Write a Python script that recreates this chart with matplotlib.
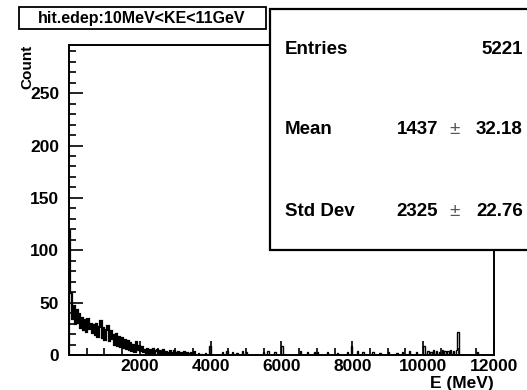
import numpy as np
import matplotlib.pyplot as plt
from matplotlib.patches import Rectangle
from matplotlib.ticker import MultipleLocator, FixedLocator

plt.rcParams["font.family"] = ["Liberation Sans", "DejaVu Sans"]
plt.rcParams["font.weight"] = "bold"

BIN_WIDTH = 40  # MeV
X_MAX = 12000
Y_MAX = 296
HEAD_BINS = 90

# counts of the first 90 bins (0 - 3600 MeV)
head_counts = [
    118, 59, 34, 47, 30, 43, 31, 39,
    26, 35, 24, 33, 22, 34, 25, 30, 21, 29,
    19, 30, 17, 27, 32, 16, 26, 14, 24, 28, 13, 23, 15,
    19, 10, 20, 9, 17, 8, 16, 7, 14, 6, 13, 5,
    11, 4, 10, 3, 12, 5, 9, 4, 8, 3,
    5, 1, 6, 1, 5, 2, 6, 1, 4, 5, 1, 4, 0, 5, 1,
    3, 0, 2, 4, 0, 2, 4, 0, 2, 3, 0, 2, 1, 3, 0, 2, 1, 0, 2, 1, 3, 0,
]

# sparse tail: energy (MeV) and count of the isolated spikes
tail_energy = [
    3650, 3750, 3850, 3980, 4320, 4460, 4630, 4750, 4880, 5020,
    5480, 5620, 5820, 6010, 6520, 6720, 6950, 7000, 7290, 7570,
    7850, 7990, 8130, 8300, 8560, 8780, 9010, 9260, 9430, 9630,
    9830, 10000, 10120, 10200, 10280, 10360, 10440, 10520, 10600, 10680,
    10760, 10840, 10920, 10960, 11520,
]
tail_counts = [
    2, 1, 2, 9, 3, 4, 3, 2, 4, 3,
    3, 4, 3, 9, 4, 3, 3, 3, 3, 2,
    3, 9, 4, 3, 3, 2, 3, 2, 3, 4,
    3, 9, 4, 3, 5, 4, 3, 5, 4, 4,
    5, 4, 5, 22, 3,
]

stats_labels = ["Entries", "Mean", "Std Dev"]
stats_values = ["5221", "1437", "2325"]
stats_errors = [None, "32.18", "22.76"]


def main() -> None:
    edges = np.arange(0, X_MAX + BIN_WIDTH, BIN_WIDTH)
    counts = np.zeros(len(edges) - 1)
    counts[:HEAD_BINS] = head_counts
    for energy, value in zip(tail_energy, tail_counts):
        counts[int(energy // BIN_WIDTH)] = value

    fig = plt.figure(figsize=(5.27, 3.90), dpi=100)
    ax = fig.add_axes([69 / 527, 35 / 390, 425 / 527, 310 / 390])

    # dense low-energy part drawn a bit heavier, like the reference
    ax.stairs(counts[:HEAD_BINS], edges[:HEAD_BINS + 1], color="black",
              linewidth=1.6)
    ax.stairs(counts[HEAD_BINS:], edges[HEAD_BINS:], color="black",
              linewidth=1.0)

    ax.set_xlim(0, X_MAX)
    ax.set_ylim(0, Y_MAX)

    ax.xaxis.set_major_locator(FixedLocator(range(0, 12001, 2000)))
    ax.xaxis.set_minor_locator(MultipleLocator(500))
    ax.yaxis.set_major_locator(MultipleLocator(50))
    ax.yaxis.set_minor_locator(MultipleLocator(10))
    ax.set_xticklabels([""] + [str(v) for v in range(2000, 12001, 2000)])

    ax.tick_params(which="both", direction="in", top=False, right=False,
                   labelsize=12.5, width=1.2)
    ax.tick_params(which="major", length=10)
    ax.tick_params(which="minor", length=5)
    ax.tick_params(axis="y", pad=7)
    ax.tick_params(axis="x", pad=3)
    for spine in ax.spines.values():
        spine.set_linewidth(1.4)

    ax.set_xlabel("E (MeV)", fontsize=12.5, fontweight="bold", loc="right",
                  labelpad=1)
    ax.set_ylabel("Count", fontsize=11, fontweight="bold", loc="top",
                  labelpad=-3)

    # title box
    fig.patches.append(Rectangle((19 / 527, 1 - 29 / 390), 247 / 527, 22 / 390,
                                 transform=fig.transFigure, facecolor="white",
                                 edgecolor="black", linewidth=1.3))
    fig.text(142 / 527, 1 - 18 / 390, "hit.edep:10MeV<KE<11GeV",
             ha="center", va="center", fontsize=11.5, fontweight="bold")

    # stats box (runs past the right edge)
    fig.patches.append(Rectangle((270 / 527, 1 - 250 / 390), 270 / 527, 241 / 390,
                                 transform=fig.transFigure, facecolor="white",
                                 edgecolor="black", linewidth=1.6, zorder=5))
    rows_y = [49, 130, 211]
    for label, value, err, y in zip(stats_labels, stats_values, stats_errors, rows_y):
        yf = 1 - y / 390
        fig.text(285 / 527, yf, label, ha="left", va="center", fontsize=13.5,
                 fontweight="bold", zorder=6)
        if err is None:
            fig.text(523 / 527, yf, value, ha="right", va="center", fontsize=13.5,
                     fontweight="bold", zorder=6)
        else:
            fig.text(523 / 527, yf, err, ha="right", va="center", fontsize=13.5,
                     fontweight="bold", zorder=6)
            fig.text(455 / 527, yf, "\u00b1", ha="center", va="center",
                     fontsize=13.5, fontweight="normal", color="#555555", zorder=6)
            fig.text(438 / 527, yf, value, ha="right", va="center", fontsize=13.5,
                     fontweight="bold", zorder=6)

    fig.savefig("out.png", dpi=100)
    plt.close(fig)


if __name__ == "__main__":
    main()
